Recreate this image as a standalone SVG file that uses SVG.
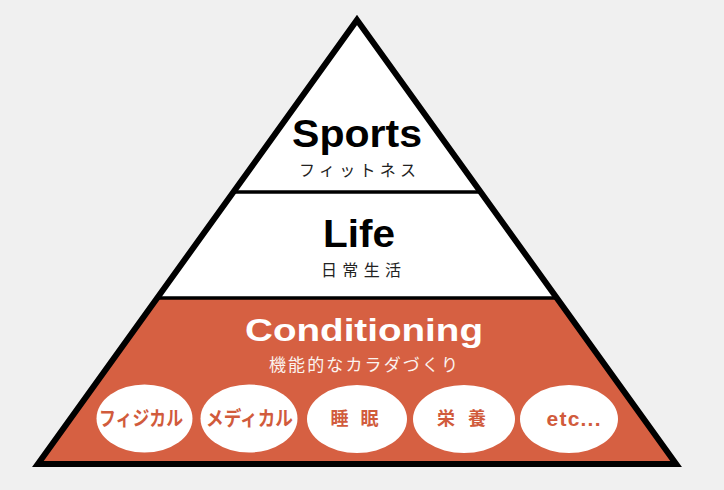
<svg xmlns="http://www.w3.org/2000/svg" width="724" height="490" viewBox="0 0 724 490">
<style>
.lat{font-family:"Liberation Sans",Arial,sans-serif;font-weight:bold;text-anchor:middle}
.jp{font-family:"Noto Sans CJK JP","Noto Sans CJK SC",sans-serif;text-anchor:middle}
.pill{fill:#ffffff}
.pl{font-family:"Noto Sans CJK JP","Noto Sans CJK SC",sans-serif;font-weight:bold;fill:#D15B3C;text-anchor:middle;font-size:18px}
.kt{font-size:20px}
.div{stroke:#000;stroke-width:3.5}
</style>
<rect width="724" height="490" fill="#f0f0f0"/>
<g id="layer-sports">
<polygon points="357,20 233.4,192 480.6,192" fill="#ffffff"/>
<text class="lat" x="357" y="147" font-size="39" fill="#000" textLength="130" lengthAdjust="spacingAndGlyphs">Sports</text>
<text class="jp" x="357.5" y="176" font-size="16" fill="#222" textLength="117" lengthAdjust="spacing">フィットネス</text>
</g>
<g id="layer-life">
<polygon points="233.4,192 480.6,192 556.8,298 157.2,298" fill="#ffffff"/>
<text class="lat" x="359" y="247" font-size="38" fill="#000" textLength="72" lengthAdjust="spacingAndGlyphs">Life</text>
<text class="jp" x="361" y="276" font-size="16" fill="#222" textLength="80" lengthAdjust="spacing">日常生活</text>
</g>
<g id="layer-conditioning">
<polygon points="157.2,298 556.8,298 676.1,464 37.9,464" fill="#D66042"/>
<text class="lat" x="364" y="341" font-size="32" fill="#ffffff" textLength="238" lengthAdjust="spacingAndGlyphs">Conditioning</text>
<text class="jp" x="363.5" y="371" font-size="17" fill="#fbf3ef" textLength="189" lengthAdjust="spacing">機能的なカラダづくり</text>
</g>
<g id="outline">
<line class="div" x1="233.4" y1="192" x2="480.6" y2="192"/>
<line class="div" x1="157.2" y1="298" x2="556.8" y2="298"/>
<polygon points="357,20 676.1,464 37.9,464" fill="none" stroke="#000" stroke-width="6" stroke-linejoin="miter" stroke-miterlimit="10"/>
</g>
<g id="node-physical">
<ellipse class="pill" cx="144.5" cy="418.5" rx="48" ry="34"/>
<text class="pl kt" x="141" y="425.5" textLength="84" lengthAdjust="spacingAndGlyphs">フィジカル</text>
</g>
<g id="node-medical">
<ellipse class="pill" cx="249" cy="418.5" rx="48.5" ry="34"/>
<text class="pl kt" x="249.5" y="425.5" textLength="87" lengthAdjust="spacingAndGlyphs">メディカル</text>
</g>
<g id="node-sleep">
<ellipse class="pill" cx="357" cy="419" rx="50" ry="34"/>
<text class="pl" x="354.5" y="425" textLength="48" lengthAdjust="spacing">睡 眠</text>
</g>
<g id="node-nutrition">
<ellipse class="pill" cx="464" cy="419" rx="51" ry="34"/>
<text class="pl" x="461.5" y="425" textLength="49" lengthAdjust="spacing">栄 養</text>
</g>
<g id="node-etc">
<ellipse class="pill" cx="569" cy="419" rx="49" ry="34"/>
<text class="lat" x="573.5" y="426" font-size="21" fill="#D15B3C" textLength="54" lengthAdjust="spacing">etc...</text>
</g>
</svg>
